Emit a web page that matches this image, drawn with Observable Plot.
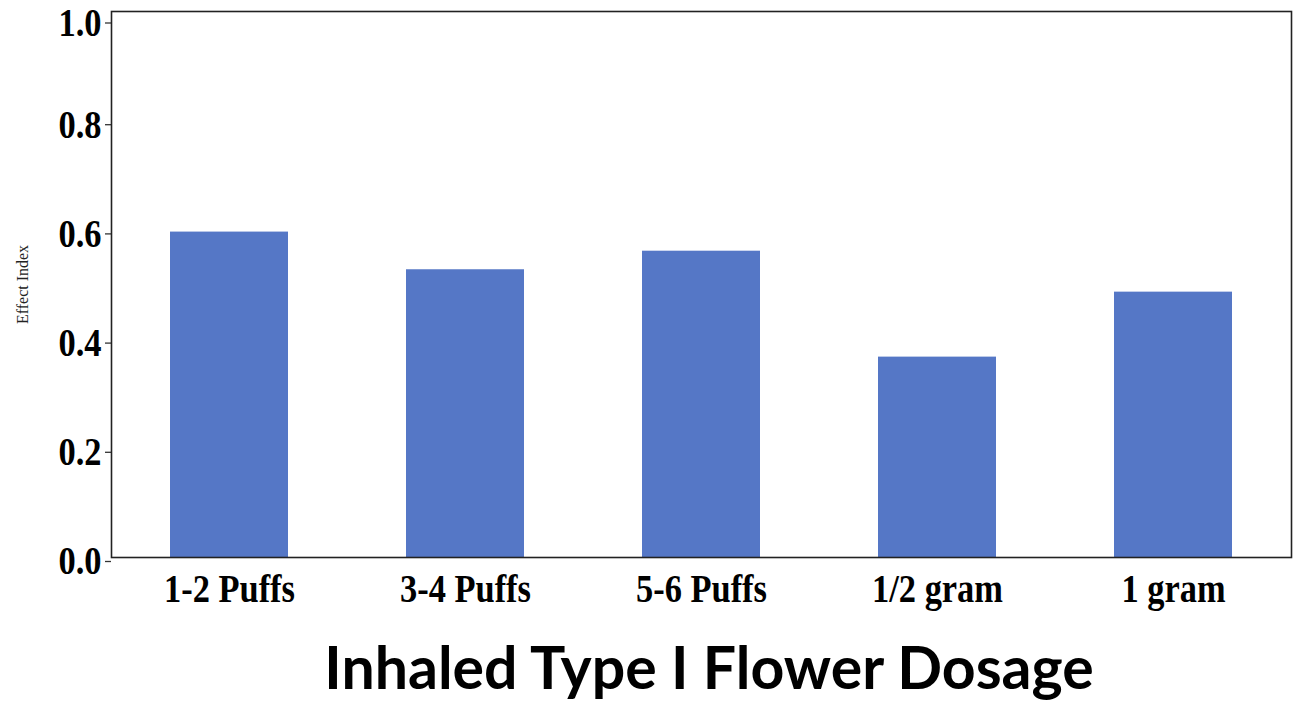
<!DOCTYPE html>
<html>
<head>
<meta charset="utf-8">
<script src="https://cdn.jsdelivr.net/npm/d3@7"></script>
<script src="https://cdn.jsdelivr.net/npm/@observablehq/plot@0.6"></script>
<style>
  html, body { margin: 0; padding: 0; background: #fff; }
  #wrap { position: relative; width: 1297px; height: 703px; overflow: hidden; }
  #title { position: absolute; left: 0; width: 1297px; top: 637px; text-align: center;
    font-family: Lato, "Open Sans", sans-serif; font-weight: 700; font-size: 59px; line-height: 1; color: #000; padding-left: 121px; box-sizing: border-box; white-space: nowrap; }
</style>
</head>
<body>
<div id="wrap">
  <div id="chart"></div>
  <div id="title">Inhaled Type I Flower Dosage</div>
</div>
<script>
const categories = ["1-2 Puffs", "3-4 Puffs", "5-6 Puffs", "1/2 gram", "1 gram"];
const values = [0.596, 0.527, 0.561, 0.367, 0.486];
const yTicksLower = [0, 0.2, 0.4, 0.6, 0.8];
const yTicksTop = [1.0];
const yLabel = "Effect Index";

const data = categories.map((c, i) => ({category: c, value: values[i]}));

const serif = "'Liberation Serif', 'Times New Roman', serif";

const chart = Plot.plot({
  width: 1297,
  height: 640,
  marginTop: 11,
  marginBottom: 83,
  marginLeft: 111,
  marginRight: 6,
  style: {background: "#fff"},
  x: {domain: categories, paddingInner: 0.5, paddingOuter: 0.25, align: 0.5, label: null},
  y: {domain: [0, 1], label: null},
  marks: [
    Plot.barY(data, {x: "category", y: "value", fill: "#5577c6"}),
    Plot.axisY({ticks: yTicksLower, tickFormat: d3.format(".1f"), tickSize: 6, tickPadding: 4,
      fontSize: 40, fontFamily: serif, fontWeight: "bold", dy: 4, stroke: "#333", strokeWidth: 1.3, label: null}),
    Plot.axisY({ticks: yTicksTop, tickFormat: d3.format(".1f"), tickSize: 6, tickPadding: 4,
      fontSize: 40, fontFamily: serif, fontWeight: "bold", dy: 11.5, stroke: "#333", strokeWidth: 1.3, label: null}),
    Plot.axisX({tickSize: 0, tickPadding: 16, fontSize: 40, fontFamily: serif, fontWeight: "bold", label: null}),
    Plot.text([yLabel], {frameAnchor: "left", textAnchor: "middle", rotate: -90, dx: -89, fontSize: 16, fontFamily: serif, fill: "#222"}),
    Plot.frame({stroke: "#222", strokeWidth: 1.6})
  ]
});
document.getElementById("chart").appendChild(chart);

// condense the bold serif tick labels horizontally, like the reference
chart.querySelectorAll('g[aria-label="y-axis tick label"] text, g[aria-label="x-axis tick label"] text').forEach(t => {
  const len = t.getComputedTextLength();
  t.setAttribute("textLength", (len * 0.86).toFixed(1));
  t.setAttribute("lengthAdjust", "spacingAndGlyphs");
});
</script>
</body>
</html>
